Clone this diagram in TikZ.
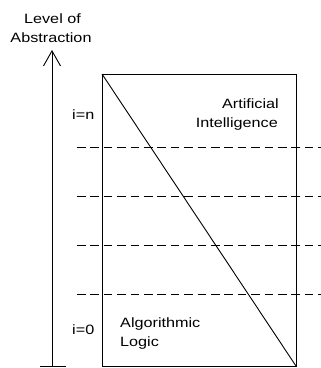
\documentclass[tikz,border=0pt]{standalone}
\usepackage{fontspec}
\newfontfamily\labfont[FakeStretch=1.2]{Liberation Sans}
\usetikzlibrary{arrows.meta}
\begin{document}
\begin{tikzpicture}[x=1pt,y=-1pt,
  lab/.style={font=\labfont\fontsize{13.5}{19.5}\selectfont, inner sep=0pt},
  solid line/.style={line width=0.9pt, black},
  level line/.style={line width=0.9pt, black, dash pattern=on 8.7pt off 4.7pt}]
\useasboundingbox (0,0) rectangle (321,368);
% box
\coordinate (tl) at (102,74);
\coordinate (br) at (296,366);
\draw[solid line] (tl) rectangle (br);
\draw[solid line] (tl) -- (br);
% axis
\coordinate (axb) at (52,366);
\coordinate (axt) at (52,50);
\coordinate (tickl) at (40,366);
\coordinate (tickr) at (66,366);
\draw[solid line, -{Straight Barb[length=15pt,width=17pt,line width=0.9pt]}] (axb) -- (axt);
\draw[solid line] (tickl) -- (tickr);
% dashed levels
\foreach \y/\n in {147.3/a,196/b,245.7/c,294/d}{
  \coordinate (dl\n) at (77,\y);
  \coordinate (dr\n) at (321,\y);
  \draw[level line] (dl\n) -- (dr\n);
}
% labels
\node[lab, anchor=base] (lev) at (52.5,23.3) {Level of};
\node[lab, anchor=base] (abs) at (51,42.7) {Abstraction};
\node[lab, anchor=base west] (in) at (72,119) {i=n};
\node[lab, anchor=base west] (i0) at (72,334.3) {i=0};
\node[lab, anchor=base east] (art) at (279,108) {Artificial};
\node[lab, anchor=base east] (int) at (278,127.5) {Intelligence};
\node[lab, anchor=base west] (alg) at (120,327) {Algorithmic};
\node[lab, anchor=base west] (log) at (120,346.5) {Logic};
\end{tikzpicture}
\end{document}
